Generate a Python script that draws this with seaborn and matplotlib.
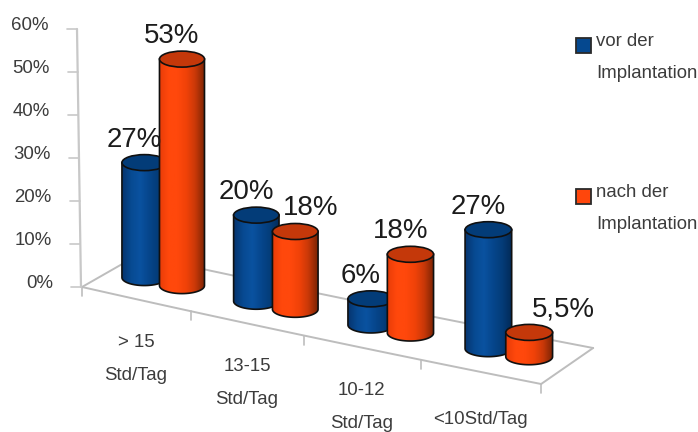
import numpy as np
import matplotlib
matplotlib.use("Agg")
import matplotlib.pyplot as plt
from matplotlib.colors import LinearSegmentedColormap
from matplotlib.patches import Ellipse, PathPatch, Rectangle
from matplotlib.path import Path
import seaborn as sns

categories = [["> 15", "Std/Tag"], ["13-15", "Std/Tag"], ["10-12", "Std/Tag"], ["<10Std/Tag"]]
series_names = [["vor der", "Implantation"], ["nach der", "Implantation"]]
vor_der = [27, 20, 6, 27]
nach_der = [53, 18, 18, 5.5]
value_labels = [["27%", "20%", "6%", "27%"], ["53%", "18%", "18%", "5,5%"]]
y_ticks = [0, 10, 20, 30, 40, 50, 60]

sns.set_theme(style="white")
plt.rcParams["font.family"] = ["Liberation Sans", "DejaVu Sans"]

fills = sns.color_palette(["#05488f", "#ff460c"])
tops = sns.color_palette(["#033c78", "#c4380a"])
ramps = [
    LinearSegmentedColormap.from_list("blue_body", ["#06356f", "#074a92", "#0a52a0", "#06468c", "#043c78", "#022a58"]),
    LinearSegmentedColormap.from_list("orange_body", ["#e83c08", "#ff480c", "#ff480c", "#f04208", "#c83808", "#7c2404"]),
]


def floor_point(u, v):
    """Project a floor position (u along the categories, v into the depth) to the canvas."""
    x = 82 + 107.1 * u + 1.92 * u ** 2 + v * (56 - u)
    y = 287 + 24.25 * u - v * (32 + u)
    return x, y


def units(u):
    """Canvas length of one percentage point at floor position u."""
    return 4.24 + 0.05 * u


fig = plt.figure(figsize=(6.98, 4.32), dpi=100)
ax = fig.add_axes([0, 0, 1, 1])
ax.set_xlim(0, 698)
ax.set_ylim(432, 0)
ax.axis("off")

# Floor outline and the ticks below its front edge
grid = "#bdbdbd"
us = np.linspace(0, 4, 60)
ax.plot(*floor_point(us, 0 * us), color=grid, lw=1.4, zorder=1)
ax.plot(*floor_point(us, 0 * us + 1), color=grid, lw=1.4, zorder=1)
vs = np.linspace(0, 1, 10)
ax.plot(*floor_point(0 * vs, vs), color=grid, lw=1.4, zorder=1)
ax.plot(*floor_point(0 * vs + 4, vs), color=grid, lw=1.4, zorder=1)
for i in range(5):
    fx, fy = floor_point(i, 0)
    ax.plot([fx, fx], [fy, fy + 9], color=grid, lw=1.2, zorder=1)

# Value axis, leaning slightly as the wall recedes
lean = 4 / 60
ax.plot([81 - lean * y_ticks[0], 81 - lean * y_ticks[-1]],
        [287 - 4.3 * y_ticks[0], 287 - 4.3 * y_ticks[-1]], color="#c8c8c8", lw=1.6, zorder=1)
for t in y_ticks:
    tx, ty = 81 - lean * t, 287 - 4.3 * t
    ax.plot([tx - 10, tx], [ty, ty], color="#c8c8c8", lw=1.2, zorder=1)
    ax.text(tx - 28, ty - 3.5, f"{t}%", ha="right", va="center", fontsize=13.4, color="#3c3c3c")


def cylinder(u, value, s, order):
    cx, base = floor_point(u, 0.54)
    # Pairs near the axis sit a little closer to it than the floor curve gives
    cx -= max(0.0, 4 * (1 - u / 1.8))
    r = 22.3 + 0.3 * u
    b = 8.0
    top = base - value * units(u)
    t = np.linspace(np.pi, 0, 40)
    arc = np.column_stack([cx + r * np.cos(t), base + b * np.sin(t)])
    verts = np.vstack([[[cx - r, top]], arc, [[cx + r, top]], [[cx - r, top]]])
    codes = [Path.MOVETO] + [Path.LINETO] * (len(verts) - 2) + [Path.CLOSEPOLY]
    shade = ax.imshow(np.linspace(0, 1, 64)[None, :], cmap=ramps[s], aspect="auto",
                      extent=(cx - r, cx + r, base + b, top), zorder=order + 0.1)
    shade.set_clip_path(PathPatch(Path(verts, codes), transform=ax.transData))
    ax.add_patch(PathPatch(Path(verts, codes), facecolor="none", edgecolor="#101010", lw=1.2, zorder=order + 0.2))
    ax.add_patch(Ellipse((cx, top), 2 * r, 2 * b, facecolor=tops[s], edgecolor="#101010", lw=1.2, zorder=order + 0.3))
    return cx, top


# Cylinders back to front, so each pair overlaps from the left
label_nudge = {(1, 1): 25, (1, 3): 44}
for i in range(len(categories)):
    for s, values in enumerate([vor_der, nach_der]):
        cx, top = cylinder(i + 0.33 + 0.34 * s, values[i], s, 2 + i + s * 0.5)
        ax.text(cx - 10 + label_nudge.get((s, i), 0), top - 23, value_labels[s][i], ha="center", va="center",
                fontsize=19.9, color="#1c1c1c", zorder=20)

# Category labels follow the slope of the floor
for i, lines in enumerate(categories):
    fx, fy = floor_point(i + 0.5, 0)
    drop = 43 if len(lines) > 1 else 48
    for j, line in enumerate(lines):
        ax.text(fx, fy + drop + 33 * j, line, ha="center", va="center", fontsize=13.4, color="#3c3c3c")

# Legend
for s, (swatch_top, lines) in enumerate(zip([38, 189], series_names)):
    ax.add_patch(Rectangle((576, swatch_top), 14.5, 14.5, facecolor=fills[s], edgecolor="#2a2a2a", lw=1.3, zorder=5))
    for j, line in enumerate(lines):
        ax.text(596, swatch_top + 3.5 + 32 * j, line, ha="left", va="center", fontsize=13.4, color="#3c3c3c")

fig.savefig("out.png", dpi=100, facecolor="white")
